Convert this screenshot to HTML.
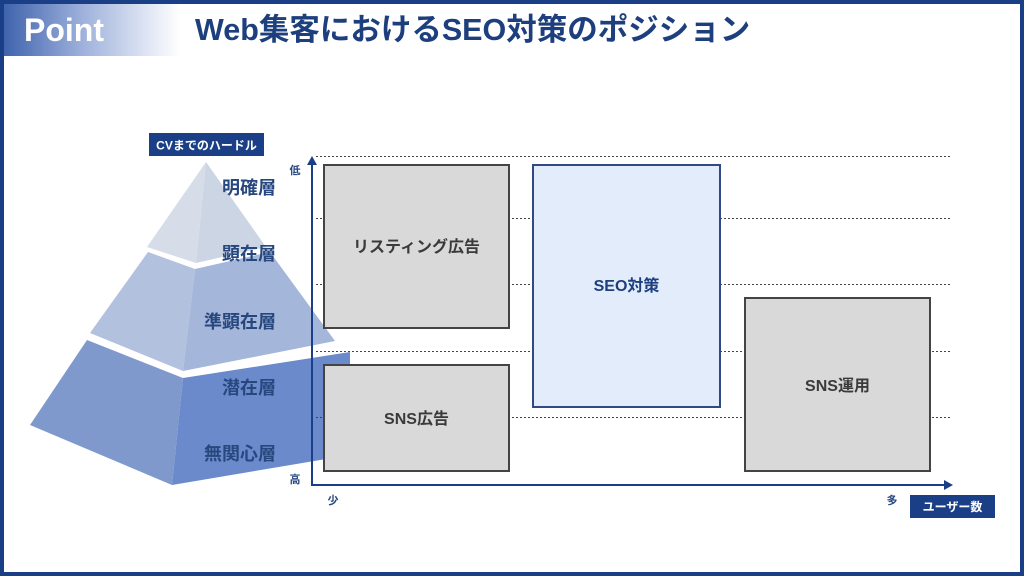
<!DOCTYPE html>
<html><head><meta charset="utf-8"><style>
body{margin:0;width:1024px;height:576px;overflow:hidden;background:#fff;font-family:"Liberation Sans","Noto Sans CJK JP",sans-serif;}
</style></head><body>
<svg width="1024" height="576" viewBox="0 0 1024 576" xmlns="http://www.w3.org/2000/svg" style="position:absolute;left:0;top:0">
<defs>
<linearGradient id="g" x1="0" x2="1" y1="0" y2="0">
<stop offset="0" stop-color="#3f63ad"/><stop offset="0.45" stop-color="#9fb2dc"/><stop offset="1" stop-color="#ffffff"/>
</linearGradient>
</defs>
<rect x="2" y="2" width="1020" height="572" fill="#fff" stroke="#1b3f87" stroke-width="4"/>
<rect x="4" y="4" width="176" height="52" fill="url(#g)"/>
<text x="24" y="41" font-size="32" font-weight="bold" fill="#fff" font-family="Liberation Sans, sans-serif">Point</text>
<text x="195" y="40" font-size="30.5" font-weight="bold" fill="#1d3f7d" font-family="Liberation Sans, Noto Sans CJK JP, sans-serif">Web集客におけるSEO対策のポジション</text>

<!-- pyramid -->
<polygon points="206,162 147,247 196,263" fill="#d6dde9"/>
<polygon points="206,162 196,263 266,247" fill="#ccd5e4"/>
<polygon points="148,252 90,333 183,371 195,269" fill="#b1c1de"/>
<polygon points="195,269 183,371 335,341 270,252" fill="#a4b6da"/>
<polygon points="87,340 30,425 172,485 183,378" fill="#8099cd"/>
<polygon points="183,378 172,485 350,455 350,352" fill="#6b8acb"/>
<g font-size="18" font-weight="bold" fill="#27477f" text-anchor="end">
<text x="276" y="194">明確層</text>
<text x="276" y="260">顕在層</text>
<text x="276" y="328">準顕在層</text>
<text x="276" y="394">潜在層</text>
<text x="276" y="460">無関心層</text>
</g>
<rect x="149" y="133" width="115" height="23" fill="#1b3f87"/>
<text x="206.5" y="149.5" font-size="12" font-weight="bold" fill="#fff" text-anchor="middle">CVまでのハードル</text>

<!-- grid -->
<g stroke="#444" stroke-width="1" stroke-dasharray="2,2">
<line x1="316" y1="156.5" x2="952" y2="156.5"/>
<line x1="316" y1="218.5" x2="952" y2="218.5"/>
<line x1="316" y1="284.5" x2="952" y2="284.5"/>
<line x1="316" y1="351.5" x2="952" y2="351.5"/>
<line x1="316" y1="417.5" x2="952" y2="417.5"/>
</g>
<!-- boxes -->
<rect x="324" y="165" width="185" height="163" fill="#d9d9d9" stroke="#444" stroke-width="2"/>
<text x="416.5" y="252" font-size="16" font-weight="bold" fill="#3a3a3a" text-anchor="middle">リスティング広告</text>
<rect x="324" y="365" width="185" height="106" fill="#d9d9d9" stroke="#444" stroke-width="2"/>
<text x="416.5" y="424" font-size="16" font-weight="bold" fill="#3a3a3a" text-anchor="middle">SNS広告</text>
<rect x="533" y="165" width="187" height="242" fill="#e2ecfb" stroke="#2e4a85" stroke-width="2"/>
<text x="626.5" y="291" font-size="16" font-weight="bold" fill="#1d3f7d" text-anchor="middle">SEO対策</text>
<rect x="745" y="298" width="185" height="173" fill="#d9d9d9" stroke="#444" stroke-width="2"/>
<text x="837.5" y="391" font-size="16" font-weight="bold" fill="#3a3a3a" text-anchor="middle">SNS運用</text>

<!-- axes -->
<g stroke="#1b3f87" stroke-width="2" fill="none">
<line x1="312" y1="163" x2="312" y2="486"/>
<line x1="311" y1="485" x2="945" y2="485"/>
</g>
<polygon points="312,156 307,165 317,165" fill="#1b3f87"/>
<polygon points="953,485 944,480 944,490" fill="#1b3f87"/>
<g font-size="11" font-weight="bold" fill="#27477f" text-anchor="middle">
<text x="295" y="174">低</text>
<text x="295" y="483">高</text>
<text x="333" y="504">少</text>
<text x="892" y="504">多</text>
</g>
<rect x="910" y="495" width="85" height="23" fill="#1b3f87"/>
<text x="952.5" y="511" font-size="12" font-weight="bold" fill="#fff" text-anchor="middle">ユーザー数</text>
</svg>
</body></html>
